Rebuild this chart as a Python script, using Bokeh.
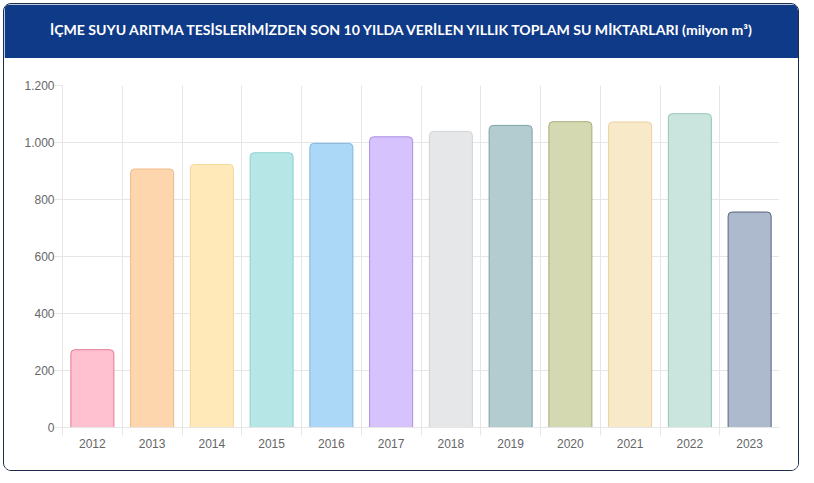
from bokeh.plotting import figure
from bokeh.layouts import column
from bokeh.models import FixedTicker, Range1d, ColumnDataSource
from bokeh.embed import file_html
from bokeh.resources import INLINE

years = ["2012", "2013", "2014", "2015", "2016", "2017",
         "2018", "2019", "2020", "2021", "2022", "2023"]
amounts = [273, 907, 923, 964, 997, 1020, 1039, 1060, 1073, 1072, 1101, 756]
fill_colors = ["#ffc1cf", "#fed6ad", "#ffe9b9", "#b7e6e6", "#acd8f7", "#d6c3fd",
               "#e6e7e9", "#b3cccf", "#d4d9b2", "#f8e9c8", "#c9e5dd", "#adb9cd"]
line_colors = ["#e27a96", "#f0b886", "#f3d79a", "#8fcfcf", "#7fb6e0", "#a98ee0",
               "#d2d3d6", "#7fa3a6", "#a7ad78", "#ead29f", "#96c6b8", "#55627e"]
y_ticks = [0, 200, 400, 600, 800, 1000, 1200]
y_tick_labels = ["0", "200", "400", "600", "800", "1.000", "1.200"]
title_text = "İÇME SUYU ARITMA TESİSLERİMİZDEN SON 10 YILDA VERİLEN YILLIK TOPLAM SU MİKTARLARI (milyon m³)"

n = len(years)
x_centers = [i + 0.5 for i in range(n)]
boundaries = list(range(n))

src = ColumnDataSource(dict(x=x_centers, top=amounts, fill=fill_colors, line=line_colors))

GRID = "#e6e6e6"
LABEL = "#666666"
HEAD = "#0f3a88"
W = 794
LEFT, RIGHT = 58, 19

# header: a figure whose title carries the heading text
h = figure(width=W, height=54, x_range=Range1d(0, 1), y_range=Range1d(0, 1),
           toolbar_location=None, output_backend="svg",
           x_axis_type=None, y_axis_type=None,
           min_border_left=LEFT, min_border_right=RIGHT, min_border_top=33, min_border_bottom=0,
           title=title_text)
h.background_fill_color = HEAD
h.border_fill_color = HEAD
h.outline_line_color = HEAD
h.outline_line_width = 3
h.grid.visible = False
h.title.align = "left"
h.title.offset = -12.5
h.title.standoff = 0
h.title.text_color = "white"
h.title.text_font = "Lato"
h.title.text_font_style = "bold"
h.title.text_font_size = "14.1px"

# chart
p = figure(width=W, height=412, x_range=Range1d(0, n), y_range=Range1d(0, 1200),
           toolbar_location=None, output_backend="svg",
           min_border_left=LEFT, min_border_right=RIGHT, min_border_top=27, min_border_bottom=43)
p.background_fill_color = "white"
p.border_fill_color = "white"
p.outline_line_color = None

p.vbar(x="x", top="top", width=0.72, fill_color="fill", line_color="line",
       line_width=1, border_radius=(4, 4, 0, 0), source=src)

p.yaxis.ticker = FixedTicker(ticks=y_ticks)
p.yaxis.major_label_overrides = {t: l for t, l in zip(y_ticks, y_tick_labels)}
p.yaxis.axis_line_color = GRID
p.yaxis.major_tick_line_color = GRID
p.yaxis.major_tick_out = 8
p.yaxis.major_tick_in = 0
p.yaxis.minor_tick_line_color = None
p.yaxis.major_label_standoff = 0
p.yaxis.major_label_text_font = "Liberation Sans"
p.yaxis.major_label_text_font_size = "12px"
p.yaxis.major_label_text_color = LABEL

p.xaxis.ticker = FixedTicker(ticks=x_centers, minor_ticks=boundaries)
p.xaxis.major_label_overrides = {c: y for c, y in zip(x_centers, years)}
p.xaxis.axis_line_color = GRID
p.xaxis.major_tick_line_color = None
p.xaxis.major_tick_out = 0
p.xaxis.major_tick_in = 0
p.xaxis.minor_tick_line_color = GRID
p.xaxis.minor_tick_out = 8
p.xaxis.minor_tick_in = 0
p.xaxis.major_label_standoff = 3
p.xaxis.major_label_text_font = "Liberation Sans"
p.xaxis.major_label_text_font_size = "12px"
p.xaxis.major_label_text_color = LABEL

p.xgrid.ticker = FixedTicker(ticks=boundaries)
p.xgrid.grid_line_color = GRID
p.ygrid.grid_line_color = GRID

layout = column(h, p, styles={"border": "1.5px solid #1d2c4c", "border-radius": "8px",
                              "overflow": "hidden", "margin-left": "3px", "margin-top": "3px"})

open("out.html", "w").write(file_html(layout, INLINE))
